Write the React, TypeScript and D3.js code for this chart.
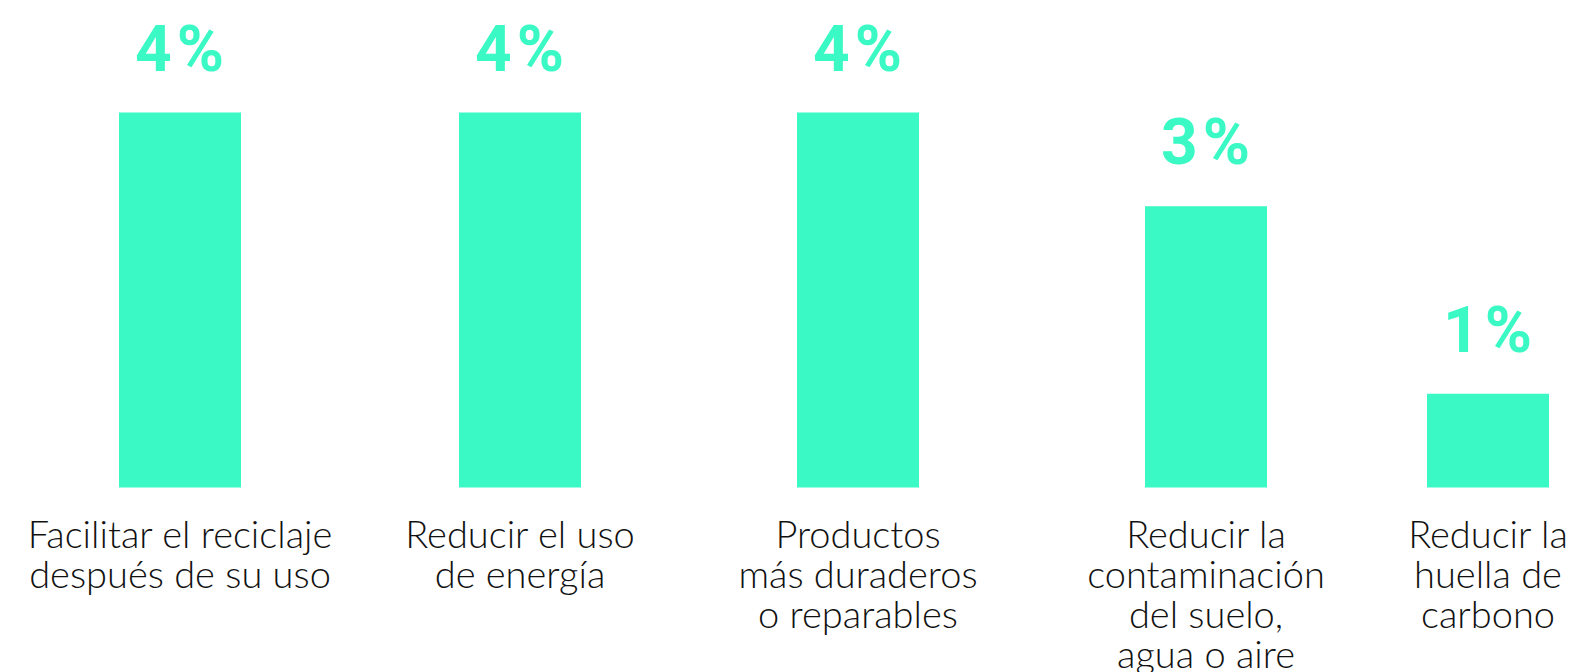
import React from "react";
import * as d3 from "d3";

const categories = ["reciclaje", "energia", "duraderos", "contaminacion", "carbono"];
const values = [4, 4, 4, 3, 1];
const valueLabels = ["4%", "4%", "4%", "3%", "1%"];
const categoryLines = [
  ["Facilitar el reciclaje", "después de su uso"],
  ["Reducir el uso", "de energía"],
  ["Productos", "más duraderos", "o reparables"],
  ["Reducir la", "contaminación", "del suelo,", "agua o aire"],
  ["Reducir la", "huella de", "carbono"],
];

const W = 1572;
const H = 672;
const TEAL = "#3AF9C4";

export default function App() {
  const x = d3.scaleOrdinal<string, number>().domain(categories).range([180, 520, 858, 1206, 1488]);
  const y = d3.scaleLinear().domain([0, 4]).range([487.5, 112.5]);
  const barW = 122;
  return (
    <svg width={W} height={H} style={{ position: "absolute", left: 0, top: 0, background: "#fff" }}>
      {categories.map((c, i) => {
        const cx = x(c);
        const top = y(values[i]);
        return (
          <g key={c}>
            <rect x={cx - barW / 2} y={top} width={barW} height={y(0) - top} fill={TEAL} />
            <text
              x={cx + 2}
              y={top - 42}
              textAnchor="middle"
              fill={TEAL}
              style={{ fontFamily: "Roboto", fontWeight: 700, fontSize: 64, letterSpacing: "5px" }}
            >
              {valueLabels[i]}
            </text>
            <text
              textAnchor="middle"
              fill="#111"
              style={{ fontFamily: "Lato", fontWeight: 300, fontSize: 38 }}
            >
              {categoryLines[i].map((line, j) => (
                <tspan key={j} x={cx} y={548 + j * 40}>
                  {line}
                </tspan>
              ))}
            </text>
          </g>
        );
      })}
    </svg>
  );
}
